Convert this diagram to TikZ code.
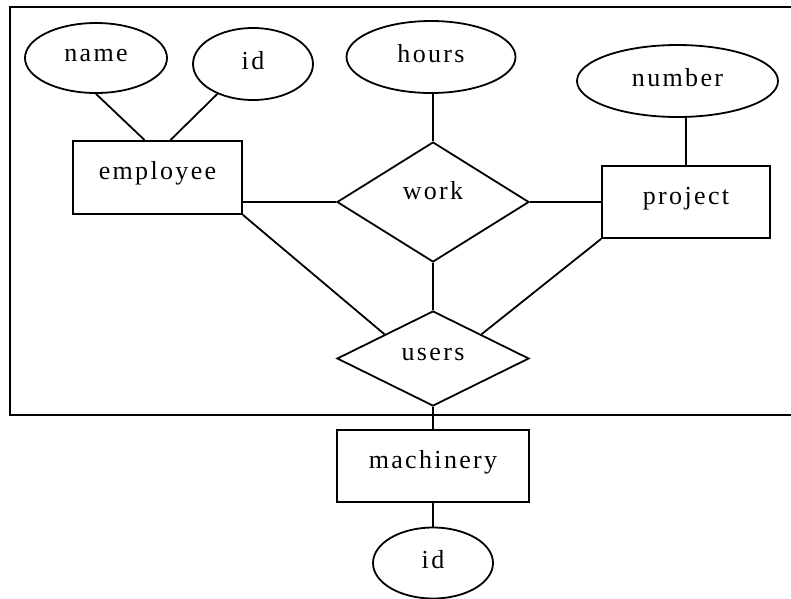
\documentclass[tikz,border=0pt]{standalone}
\usepackage{fontspec}
\setmainfont{Liberation Serif}[LetterSpace=9]
\usetikzlibrary{shapes.geometric}
\tikzset{
entity/.style={draw,rectangle,line width=1.8pt,minimum width=169pt,minimum height=73pt,inner sep=0pt,text height=12pt,text depth=8pt},
attribute/.style={draw,ellipse,line width=1.8pt,inner sep=0pt,text height=15pt,text depth=5pt},
relation/.style={draw,diamond,aspect=2,line width=1.8pt,minimum width=192pt,inner sep=0pt,text height=10pt,text depth=10pt},
legame/.style={line width=1.8pt},
cornice/.style={line width=2.6pt}}

\begin{document}
\begin{tikzpicture}[x=1pt,y=-1pt,font=\fontsize{26}{30}\selectfont]
\useasboundingbox (0,0) rectangle (791,598);

% entities
\node[entity] (emp) at (157.5,177.5) {employee};
\node[entity,minimum width=168pt,minimum height=72pt] (proj) at (686,202) {project};
\node[entity,minimum width=192pt,minimum height=72pt] (mach) at (433,466) {machinery};

% relations
\node[relation,minimum height=120pt,text height=7pt,text depth=13pt] (work) at (433,202) {work};
\node[relation,minimum height=95pt,text height=12pt,text depth=8pt] (users) at (433,358.5) {users};

% attributes
\node[attribute,minimum width=142pt,minimum height=70pt,text height=13pt,text depth=7pt] (name) at (96,58) {name};
\node[attribute,minimum width=120pt,minimum height=72pt] (id1) at (253,64) {id};
\node[attribute,minimum width=169pt,minimum height=72pt] (hours) at (431,57) {hours};
\node[attribute,minimum width=201pt,minimum height=72pt] (num) at (677.5,81) {number};
\node[attribute,minimum width=120pt,minimum height=71pt] (id2) at (433,563) {id};

\path[legame]
	(name.south) edge (emp.109)
	(id1.220) edge (emp.71)
	(work.west) edge (work.west -| emp.east)
	(emp.south east) edge (users.north west)
	(work.north) edge (work.north |- hours.south)
	(work.east) edge (proj.west)
	(proj.north) edge (proj.north |- num.south)
	(work.south) edge (users.north)
	(proj.south west) edge (users.north east)
	(users.south) edge (mach.north)
	(mach.south) edge (id2.north);

\draw[cornice] (800,7) -- (10,7) -- (10,415) -- (800,415);
\end{tikzpicture}
\end{document}
